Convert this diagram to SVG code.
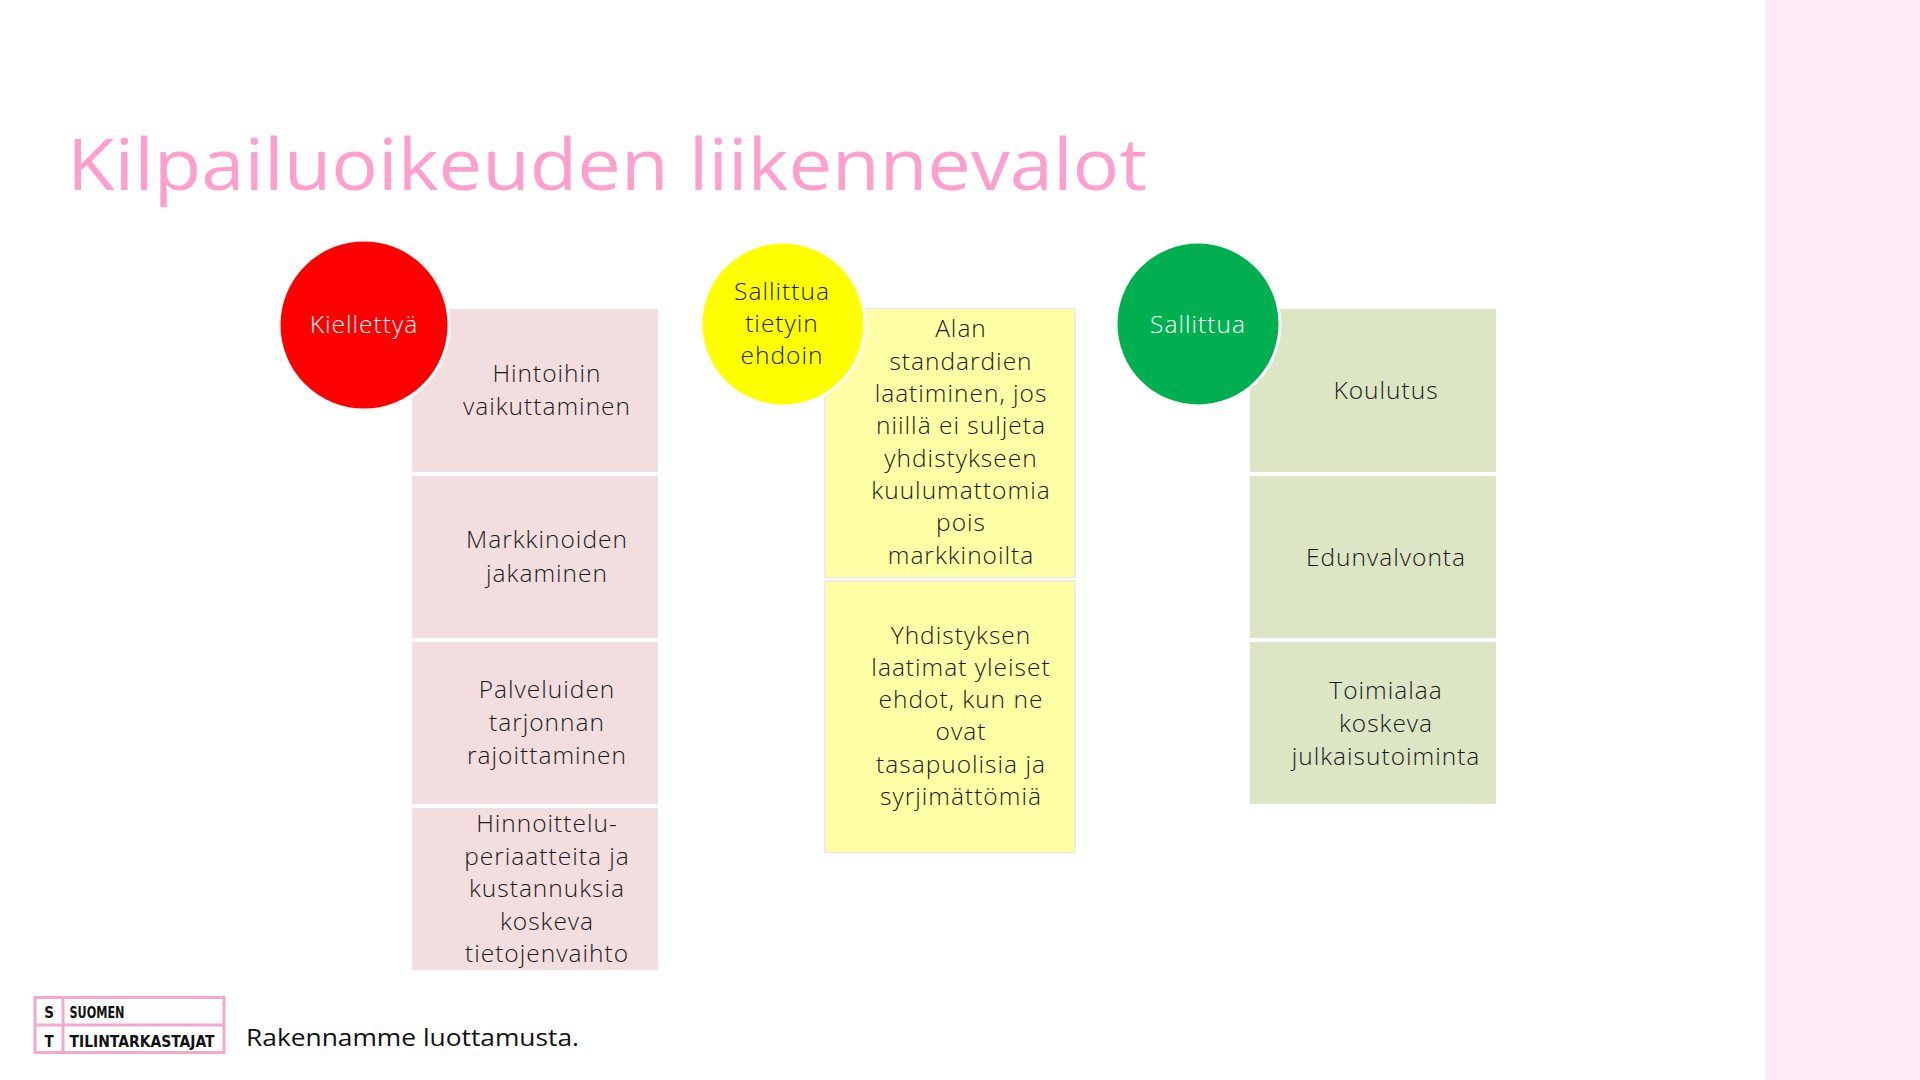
<svg xmlns="http://www.w3.org/2000/svg" width="1920" height="1080" viewBox="0 0 1920 1080">
<style>
.t{font-family:"Open Sans","Noto Sans",sans-serif;font-weight:300;font-size:24.5px;letter-spacing:1px;fill:#1a1a1a;text-anchor:middle}
.w{fill:#ffffff}
.pk{fill:#F2DEDE}
.yl{fill:#FFFFA6;stroke:#E8E8E0;stroke-width:1.5}
.gr{fill:#DCE6C4}
.circ{stroke:#ffffff;stroke-width:3}
.logo{font-family:"DejaVu Sans Condensed","DejaVu Sans",sans-serif;font-weight:bold;font-size:15px;fill:#111}
</style>
<rect x="0" y="0" width="1920" height="1080" fill="#ffffff"/>
<rect x="1765" y="0" width="155" height="1080" fill="#FDEAF5"/>
<text x="67" y="190" font-family="'Open Sans','Noto Sans',sans-serif" font-weight="500" font-size="72" fill="#FF9FCD" textLength="1080" lengthAdjust="spacingAndGlyphs">Kilpailuoikeuden liikennevalot</text>

<g id="red-col">
<g id="red-1"><rect class="pk" x="412" y="309" width="246" height="163"/>
<text class="t" x="547" y="382">Hintoihin</text><text class="t" x="547" y="415">vaikuttaminen</text></g>
<g id="red-2"><rect class="pk" x="412" y="476" width="246" height="162"/>
<text class="t" x="547" y="548">Markkinoiden</text><text class="t" x="547" y="581.5">jakaminen</text></g>
<g id="red-3"><rect class="pk" x="412" y="642" width="246" height="162"/>
<text class="t" x="547" y="698">Palveluiden</text><text class="t" x="547" y="731">tarjonnan</text><text class="t" x="547" y="763.5">rajoittaminen</text></g>
<g id="red-4"><rect class="pk" x="412" y="808" width="246" height="162"/>
<text class="t" x="547" y="831.5">Hinnoittelu-</text><text class="t" x="547" y="864.5">periaatteita ja</text><text class="t" x="547" y="897">kustannuksia</text><text class="t" x="547" y="929.5">koskeva</text><text class="t" x="547" y="962">tietojenvaihto</text></g>
<g id="red-head"><circle class="circ" cx="364" cy="325" r="85" fill="#FF0000"/>
<text class="t w" x="364" y="333">Kiellettyä</text></g>
</g>

<g id="yellow-col">
<g id="yellow-1"><rect class="yl" x="825" y="308.5" width="250" height="269"/>
<text class="t" x="961" y="337">Alan</text><text class="t" x="961" y="369.5">standardien</text><text class="t" x="961" y="401.5">laatiminen, jos</text><text class="t" x="961" y="434">niillä ei suljeta</text><text class="t" x="961" y="466.5">yhdistykseen</text><text class="t" x="961" y="498.5">kuulumattomia</text><text class="t" x="961" y="531">pois</text><text class="t" x="961" y="563.5">markkinoilta</text></g>
<g id="yellow-2"><rect class="yl" x="825" y="581" width="250" height="271.5"/>
<text class="t" x="961" y="643.5">Yhdistyksen</text><text class="t" x="961" y="675.5">laatimat yleiset</text><text class="t" x="961" y="707.5">ehdot, kun ne</text><text class="t" x="961" y="740">ovat</text><text class="t" x="961" y="772.5">tasapuolisia ja</text><text class="t" x="961" y="804.5">syrjimättömiä</text></g>
<g id="yellow-head"><circle class="circ" cx="783" cy="324" r="82" fill="#FFFF00"/>
<text class="t" x="782" y="299.5">Sallittua</text><text class="t" x="782" y="332">tietyin</text><text class="t" x="782" y="364">ehdoin</text></g>
</g>

<g id="green-col">
<g id="green-1"><rect class="gr" x="1250" y="309" width="246" height="163"/>
<text class="t" x="1386" y="399">Koulutus</text></g>
<g id="green-2"><rect class="gr" x="1250" y="476" width="246" height="162"/>
<text class="t" x="1386" y="565.5">Edunvalvonta</text></g>
<g id="green-3"><rect class="gr" x="1250" y="642" width="246" height="162"/>
<text class="t" x="1386" y="699">Toimialaa</text><text class="t" x="1386" y="732">koskeva</text><text class="t" x="1386" y="764.5">julkaisutoiminta</text></g>
<g id="green-head"><circle class="circ" cx="1198" cy="324" r="82" fill="#00B050"/>
<text class="t w" x="1198" y="332.5">Sallittua</text></g>
</g>

<g id="logo">
<rect x="35" y="997.5" width="189" height="55" fill="none" stroke="#F4A6CE" stroke-width="3"/>
<line x1="35" y1="1025" x2="224" y2="1025" stroke="#F4A6CE" stroke-width="3"/>
<line x1="63" y1="997.5" x2="63" y2="1052.5" stroke="#F4A6CE" stroke-width="3"/>
<text class="logo" x="49" y="1018" text-anchor="middle">S</text>
<text class="logo" x="49" y="1047" text-anchor="middle">T</text>
<text class="logo" x="69.5" y="1018" textLength="55" lengthAdjust="spacingAndGlyphs">SUOMEN</text>
<text class="logo" x="69.5" y="1047" textLength="145" lengthAdjust="spacingAndGlyphs">TILINTARKASTAJAT</text>
</g>
<text id="slogan" x="246" y="1046" font-family="'Open Sans','Noto Sans',sans-serif" font-size="24" fill="#111" textLength="333" lengthAdjust="spacingAndGlyphs">Rakennamme luottamusta.</text>
</svg>
